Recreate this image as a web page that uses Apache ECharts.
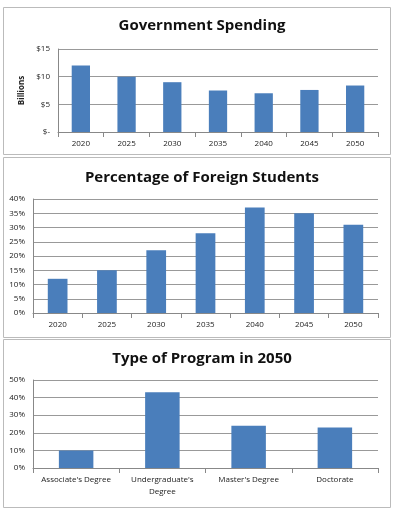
<!DOCTYPE html>
<html><head><meta charset="utf-8">
<script src="https://cdn.jsdelivr.net/npm/echarts@6/dist/echarts.min.js"></script>
<style>html,body{margin:0;padding:0;background:#fff}#c{width:402px;height:512px}</style>
</head><body><div id="c"></div>
<script>
const years = ['2020','2025','2030','2035','2040','2045','2050'];
const spending = [12, 10, 9, 7.5, 7, 7.6, 8.4];
const foreignPct = [12, 15, 22, 28, 37, 35, 31];
const programs = ["Associate's Degree", "Undergraduate's\nDegree", "Master's Degree", "Doctorate"];
const programPct = [10, 43, 24, 23];

const chart = echarts.init(document.getElementById('c'));
const F = '"Open Sans", "Liberation Sans", sans-serif';
const barColor = '#4a7ebb';
const axisLbl = {fontSize: 8, color: '#222', fontFamily: F};
const split = {show: true, lineStyle: {color: '#999', width: 1}};
const axisLine = {show: true, lineStyle: {color: '#888'}};
function xAx(i, data) {
  return {gridIndex: i, type: 'category', data, axisLine,
    axisTick: {show: true, lineStyle: {color: '#888'}}, axisLabel: {...axisLbl, margin: 6, interval: 0, lineHeight: 12}};
}
chart.setOption({
  animation: false,
  graphic: [
    {type: 'rect', shape: {x: 3.5, y: 7.5, width: 387, height: 147}, style: {fill: 'none', stroke: '#bbb'}},
    {type: 'rect', shape: {x: 3.5, y: 157.5, width: 387, height: 180}, style: {fill: 'none', stroke: '#bbb'}},
    {type: 'rect', shape: {x: 3.5, y: 339.5, width: 387, height: 168}, style: {fill: 'none', stroke: '#bbb'}}
  ],
  title: [
    {text: 'Government Spending', left: 197, textAlign: 'center', top: 13, textStyle: {fontSize: 15, fontWeight: 'bold', fontFamily: F, color: '#111'}},
    {text: 'Percentage of Foreign Students', left: 197, textAlign: 'center', top: 165, textStyle: {fontSize: 15, fontWeight: 'bold', fontFamily: F, color: '#111'}},
    {text: 'Type of Program in 2050', left: 197, textAlign: 'center', top: 346, textStyle: {fontSize: 15, fontWeight: 'bold', fontFamily: F, color: '#111'}}
  ],
  grid: [
    {left: 58, right: 24, top: 49, height: 83},
    {left: 33, right: 24, top: 199, height: 114},
    {left: 33, right: 24, top: 380, height: 88}
  ],
  xAxis: [xAx(0, years), xAx(1, years), xAx(2, programs)],
  yAxis: [
    {gridIndex: 0, type: 'value', min: 0, max: 15, interval: 5, splitLine: split, axisLine,
     name: 'Billions', nameLocation: 'middle', nameGap: 30, nameTextStyle: {fontSize: 8, fontWeight: 'bold', fontFamily: F, color: '#222'},
     axisLabel: {...axisLbl, formatter: v => v === 0 ? '$-' : '$' + v}},
    {gridIndex: 1, type: 'value', min: 0, max: 40, interval: 5, splitLine: split, axisLine,
     axisLabel: {...axisLbl, formatter: '{value}%'}},
    {gridIndex: 2, type: 'value', min: 0, max: 50, interval: 10, splitLine: split, axisLine,
     axisLabel: {...axisLbl, formatter: '{value}%'}}
  ],
  series: [
    {type: 'bar', xAxisIndex: 0, yAxisIndex: 0, data: spending, barWidth: '40%', itemStyle: {color: barColor}},
    {type: 'bar', xAxisIndex: 1, yAxisIndex: 1, data: foreignPct, barWidth: '40%', itemStyle: {color: barColor}},
    {type: 'bar', xAxisIndex: 2, yAxisIndex: 2, data: programPct, barWidth: '40%', itemStyle: {color: barColor}}
  ]
});
</script></body></html>
